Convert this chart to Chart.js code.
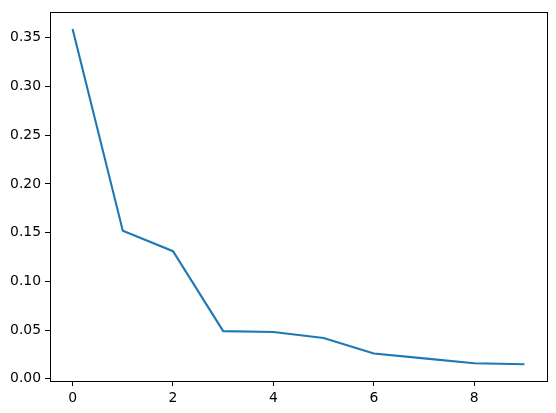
<!DOCTYPE html>
<html>
<head>
<meta charset="utf-8">
<script src="https://cdn.jsdelivr.net/npm/chart.js@4/dist/chart.umd.min.js"></script>
<style>
  body { margin: 0; background: #fff; }
  canvas { display: block; }
</style>
</head>
<body>
<canvas id="grafico" width="556" height="413"></canvas>
<script>
const xValues = [0, 1, 2, 3, 4, 5, 6, 7, 8, 9];
const yValues = [0.359, 0.152, 0.131, 0.049, 0.048, 0.042, 0.026, 0.021, 0.016, 0.015];
const xTicks = [0, 2, 4, 6, 8];
const yTicks = [0.0, 0.05, 0.1, 0.15, 0.2, 0.25, 0.3, 0.35];

document.addEventListener("DOMContentLoaded", function () {
  const ctx = document.getElementById("grafico").getContext("2d");

  // matplotlib-like frame round the plot area
  const frame = {
    id: "frame",
    afterDraw(chart) {
      const a = chart.chartArea;
      const c = chart.ctx;
      c.save();
      c.strokeStyle = "#000";
      c.lineWidth = 1;
      c.strokeRect(Math.round(a.left) + 0.5, Math.round(a.top) + 0.5,
        Math.round(a.right - a.left), Math.round(a.bottom - a.top));
      c.restore();
    },
  };

  const fonte = { family: "DejaVu Sans", size: 13.9 };

  new Chart(ctx, {
    type: "line",
    data: {
      datasets: [
        {
          data: xValues.map((x, i) => ({ x: x, y: yValues[i] })),
          borderColor: "#1f77b4",
          borderWidth: 2.1,
          pointRadius: 0,
          fill: false,
          tension: 0,
        },
      ],
    },
    options: {
      responsive: false,
      animation: false,
      devicePixelRatio: 1,
      layout: { padding: { top: 10, right: 9, left: 0, bottom: 0 } },
      plugins: { legend: { display: false }, tooltip: { enabled: false } },
      scales: {
        x: {
          type: "linear",
          min: -0.45,
          max: 9.45,
          afterBuildTicks: (s) => { s.ticks = xTicks.map((v) => ({ value: v })); },
          afterFit: (s) => { s.height = 32; },
          border: { display: false },
          grid: { drawOnChartArea: false, drawTicks: true, tickLength: 5, tickColor: "#000" },
          ticks: { color: "#000", font: fonte, padding: 4, maxRotation: 0 },
        },
        y: {
          type: "linear",
          min: -0.0022,
          max: 0.376,
          afterBuildTicks: (s) => { s.ticks = yTicks.map((v) => ({ value: v })); },
          afterFit: (s) => { s.width = 50; },
          border: { display: false },
          grid: { drawOnChartArea: false, drawTicks: true, tickLength: 5, tickColor: "#000" },
          ticks: {
            color: "#000",
            font: fonte,
            padding: 4,
            callback: (v) => v.toFixed(2),
          },
        },
      },
    },
    plugins: [frame],
  });
});
</script>
</body>
</html>
